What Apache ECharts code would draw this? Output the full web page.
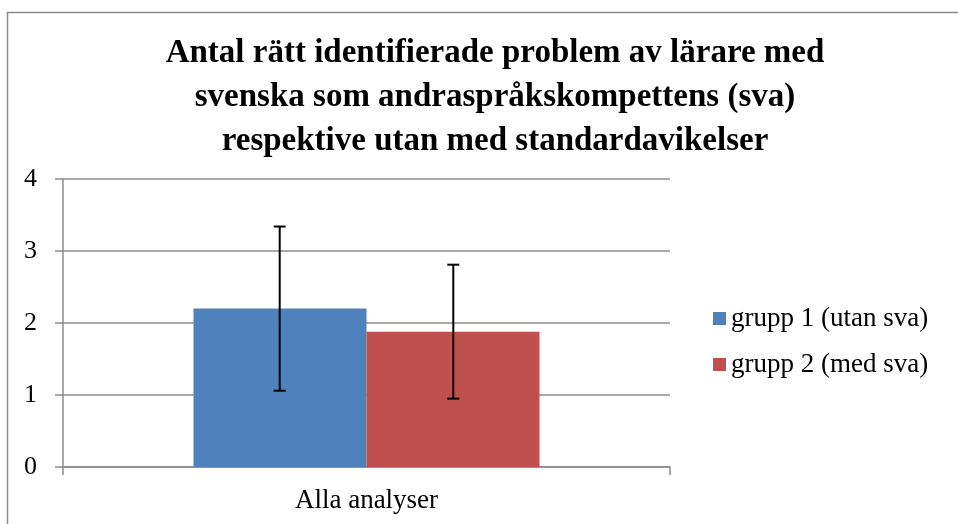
<!DOCTYPE html>
<html lang="sv">
<head>
    <meta charset="UTF-8">
    <title>Antal rätt identifierade problem</title>
    <script src="https://cdn.jsdelivr.net/npm/echarts@6/dist/echarts.min.js"></script>
    <style>
        html, body { margin: 0; padding: 0; background: #fff; }
        #main { width: 958px; height: 524px; }
    </style>
</head>
<body>
    <div id="main"></div>
    <script>
        var categories = ['Alla analyser'];
        var seriesNames = ['grupp 1 (utan sva)', 'grupp 2 (med sva)'];
        var means = [2.2, 1.88];
        var stdDevs = [1.14, 0.93];
        var colors = ['#4f81bd', '#c0504d'];

        var chart = echarts.init(document.getElementById('main'));
        var font = '"Liberation Serif", "DejaVu Serif", serif';

        var series = [];
        seriesNames.forEach(function (name, i) {
            series.push({
                name: name,
                type: 'bar',
                data: [means[i]],
                barWidth: 173,
                barGap: '0%',
                itemStyle: { color: colors[i] },
                z: 2
            });
        });

        // felstaplar (standardavvikelse)
        seriesNames.forEach(function (name, i) {
            series.push({
                type: 'custom',
                name: name + ' sd',
                data: [[0, means[i] - stdDevs[i], means[i] + stdDevs[i]]],
                encode: { x: 0, y: [1, 2] },
                z: 5,
                renderItem: function (params, api) {
                    var lo = api.coord([api.value(0), api.value(1)]);
                    var hi = api.coord([api.value(0), api.value(2)]);
                    var band = api.size([1, 0])[0];
                    var x = lo[0] + (i === 0 ? -band * 0.143 : band * 0.143);
                    var cap = 6;
                    var st = { stroke: '#000', lineWidth: 2 };
                    return {
                        type: 'group',
                        children: [
                            { type: 'line', shape: { x1: x, y1: hi[1], x2: x, y2: lo[1] }, style: st },
                            { type: 'line', shape: { x1: x - cap, y1: hi[1], x2: x + cap, y2: hi[1] }, style: st },
                            { type: 'line', shape: { x1: x - cap, y1: lo[1], x2: x + cap, y2: lo[1] }, style: st }
                        ]
                    };
                }
            });
        });

        chart.setOption({
            animation: false,
            title: {
                text: 'Antal rätt identifierade problem av lärare med\nsvenska som andraspråkskompettens (sva)\nrespektive utan med standardavikelser',
                left: 490,
                textAlign: 'center',
                top: 26,
                textStyle: {
                    fontFamily: font,
                    fontWeight: 'bold',
                    fontSize: 33,
                    lineHeight: 44,
                    color: '#000'
                }
            },
            graphic: [{
                type: 'rect',
                shape: { x: 7.5, y: 12.5, width: 1000, height: 600 },
                style: { fill: 'none', stroke: '#8c8c8c', lineWidth: 1.5 },
                silent: true
            }],
            legend: {
                data: seriesNames,
                orient: 'vertical',
                left: 708,
                top: 300,
                itemWidth: 13,
                itemHeight: 13,
                itemGap: 19,
                icon: 'rect',
                textStyle: { fontFamily: font, fontSize: 27, color: '#000' }
            },
            grid: { left: 63, right: 288, top: 179, bottom: 57 },
            xAxis: {
                type: 'category',
                data: categories,
                axisLine: { lineStyle: { color: '#8c8c8c', width: 1.5 } },
                axisTick: { show: true, length: 8, lineStyle: { color: '#8c8c8c', width: 1.5 } },
                axisLabel: { fontFamily: font, fontSize: 27, color: '#000', margin: 20 }
            },
            yAxis: {
                type: 'value',
                min: 0,
                max: 4,
                interval: 1,
                axisLine: { show: true, lineStyle: { color: '#8c8c8c', width: 1.5 } },
                axisTick: { show: true, length: 8, lineStyle: { color: '#8c8c8c', width: 1.5 } },
                splitLine: { lineStyle: { color: '#8c8c8c', width: 1.5 } },
                axisLabel: { fontFamily: font, fontSize: 26, color: '#000', margin: 26 }
            },
            series: series
        });
    </script>
</body>
</html>
